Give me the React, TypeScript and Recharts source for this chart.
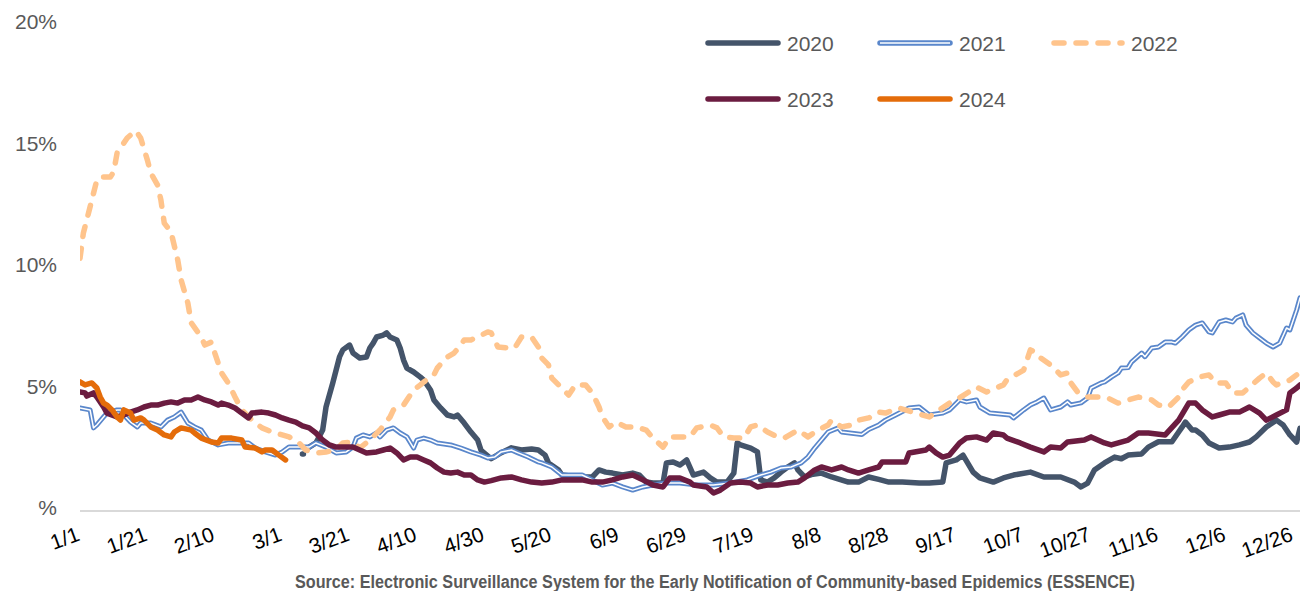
import React from "react";
import { LineChart, Line, XAxis, YAxis } from "recharts";

type Pt = [number, number | null];

const tickDays = [0, 20, 40, 60, 80, 100, 120, 140, 160, 180, 200, 220, 240, 260, 280, 300, 320, 340, 360];
const tickLabels = ["1/1", "1/21", "2/10", "3/1", "3/21", "4/10", "4/30", "5/20", "6/9", "6/29", "7/19", "8/8", "8/28", "9/17", "10/7", "10/27", "11/16", "12/6", "12/26"];
const yTicks = [0, 5, 10, 15, 20];

const s2020: Pt[] = [
  [66, 2.35], [66.3, 2.35], [66.8, null], [68, 2.63], [70, 2.8], [72, 3.33], [73, 4.28], [75, 5.27], [77, 6.34], [78, 6.63], [80, 6.83],
  [81, 6.5], [83, 6.3], [85, 6.34], [86, 6.71], [87, 6.91], [88, 7.16], [90, 7.24], [91, 7.33], [92, 7.16], [94, 7.04], [95, 6.71],
  [96, 6.21], [97, 5.88], [99, 5.72], [101, 5.51], [102, 5.39], [104, 4.98], [105, 4.57], [107, 4.24], [109, 3.95], [111, 3.87],
  [112, 3.95], [114, 3.62], [116, 3.25], [118, 2.92], [119, 2.5], [122, 2.15], [125, 2.4], [128, 2.6], [131, 2.51], [134, 2.55],
  [136, 2.51], [138, 2.3], [139, 1.98], [142, 1.69], [143, 1.48], [148, 1.4], [152, 1.4], [154, 1.69], [156, 1.6], [158, 1.56],
  [161, 1.48], [164, 1.56], [166, 1.48], [168, 1.19], [170, 1.15], [173, 1.15], [174, 1.98], [176, 2.02], [178, 1.89], [180, 2.1],
  [182, 1.48], [183, 1.52], [185, 1.6], [187, 1.36], [189, 1.19], [192, 1.19], [194, 1.56], [195, 2.8], [196, 2.72], [199, 2.59],
  [201, 2.43], [202, 1.28], [204, 1.19], [206, 1.36], [208, 1.6], [210, 1.81], [212, 1.98], [213, 1.69], [215, 1.4], [217, 1.5],
  [220, 1.56], [223, 1.4], [228, 1.19], [231, 1.19], [234, 1.4], [237, 1.3], [240, 1.19], [244, 1.19], [249, 1.15], [252, 1.15],
  [256, 1.19], [257, 1.98], [260, 2.1], [262, 2.3], [265, 1.6], [267, 1.36], [271, 1.19], [274, 1.36], [277, 1.48], [282, 1.6],
  [286, 1.4], [291, 1.4], [295, 1.19], [297, 0.99], [299, 1.15], [301, 1.69], [304, 1.98], [307, 2.22], [309, 2.15], [311, 2.3],
  [315, 2.35], [317, 2.63], [320, 2.85], [324, 2.85], [326, 3.25], [327, 3.45], [328, 3.66], [330, 3.33], [331, 3.33], [333, 3.13],
  [335, 2.8], [338, 2.59], [341, 2.63], [344, 2.72], [347, 2.84], [349, 3.05], [352, 3.46], [355, 3.74], [357, 3.54], [359, 3.13],
  [361, 2.84], [362, 3.4],
];

const s2021: Pt[] = [
  [0, 4.24], [3, 4.16], [4, 3.42], [5, 3.54], [7, 3.87], [8, 4.03], [11, 4.16], [12, 4.16], [13, 3.95], [15, 3.66], [17, 3.46],
  [18, 3.62], [21, 3.62], [24, 3.46], [26, 3.74], [28, 3.87], [30, 4.07], [32, 3.62], [34, 3.46], [36, 3.33], [38, 2.92], [41, 2.72],
  [44, 2.8], [47, 2.8], [50, 2.8], [52, 2.59], [55, 2.43], [58, 2.3], [60, 2.43], [62, 2.63], [65, 2.63], [68, 2.63], [70, 2.8],
  [73, 2.63], [76, 2.39], [79, 2.43], [81, 2.63], [82, 3.0], [84, 3.13], [86, 3.05], [88, 3.21], [89, 3.05], [91, 3.33], [93, 3.42],
  [95, 3.21], [97, 3.05], [99, 2.59], [100, 2.92], [102, 3.0], [104, 2.92], [106, 2.8], [110, 2.72], [113, 2.59], [116, 2.43],
  [119, 2.3], [121, 2.18], [123, 2.22], [125, 2.43], [128, 2.51], [130, 2.39], [133, 2.22], [136, 2.02], [137, 1.98], [140, 1.81],
  [143, 1.48], [146, 1.48], [149, 1.48], [152, 1.28], [155, 1.07], [158, 1.15], [161, 0.99], [164, 0.86], [167, 0.99], [170, 1.07],
  [174, 1.15], [178, 1.15], [183, 1.07], [188, 1.07], [193, 1.15], [198, 1.28], [202, 1.48], [205, 1.6], [208, 1.77], [211, 1.81],
  [214, 1.98], [216, 2.22], [218, 2.59], [220, 2.92], [222, 3.25], [225, 3.42], [226, 3.25], [229, 3.2], [232, 3.15], [234, 3.35],
  [237, 3.54], [239, 3.74], [242, 3.95], [246, 4.24], [249, 4.28], [252, 3.95], [256, 4.03], [258, 4.16], [261, 4.57], [263, 4.49],
  [266, 4.57], [267, 4.28], [270, 4.03], [276, 3.95], [277, 3.83], [280, 4.16], [282, 4.36], [284, 4.49], [286, 4.65], [288, 4.16],
  [291, 4.28], [293, 4.49], [294, 4.36], [297, 4.45], [299, 4.65], [300, 5.06], [303, 5.27], [304, 5.31], [306, 5.51], [308, 5.68],
  [309, 5.88], [311, 5.9], [312, 6.13], [315, 6.5], [316, 6.35], [318, 6.71], [320, 6.75], [322, 6.95], [324, 6.95], [325, 6.91],
  [327, 7.16], [329, 7.45], [331, 7.65], [333, 7.74], [335, 7.37], [336, 7.33], [338, 7.78], [340, 7.86], [342, 7.78], [343, 7.94],
  [345, 8.07], [346, 7.65], [348, 7.33], [350, 7.12], [352, 6.91], [354, 6.75], [356, 6.91], [358, 7.53], [359, 7.45], [361, 8.27],
  [362, 8.77],
];

const s2022: Pt[] = [
  [0, 10.4], [1, 11.44], [3, 12.52], [5, 13.62], [6, 13.74], [9, 13.74], [10, 13.96], [11, 14.73], [14, 15.35], [15, 15.47],
  [16, 15.39], [17, 15.56], [18, 15.35], [20, 14.44], [21, 13.91], [23, 13.42], [24, 12.8], [25, 11.85], [27, 11.48], [29, 10.33],
  [30, 9.51], [32, 8.56], [33, 7.74], [36, 7.16], [37, 6.83], [39, 6.95], [40, 6.5], [42, 5.68], [44, 5.27], [46, 4.69], [48, 4.16],
  [51, 3.74], [54, 3.42], [57, 3.25], [60, 3.13], [62, 3.05], [65, 2.8], [67, 2.51], [70, 2.39], [73, 2.43], [76, 2.51], [78, 2.8],
  [81, 2.84], [83, 2.59], [86, 2.92], [89, 3.33], [92, 3.87], [93, 4.16], [96, 4.36], [99, 4.98], [101, 5.19], [102, 5.31], [105, 5.6],
  [106, 5.88], [108, 6.21], [109, 6.34], [111, 6.5], [113, 6.83], [114, 7.04], [116, 7.04], [118, 7.16], [121, 7.37], [122, 7.33],
  [124, 6.75], [127, 6.71], [129, 6.71], [131, 7.16], [134, 7.16], [136, 6.75], [137, 6.3], [139, 6.01], [140, 5.47], [142, 5.19],
  [145, 4.77], [147, 5.19], [150, 5.19], [152, 4.86], [154, 4.28], [155, 3.87], [157, 3.46], [159, 3.66], [162, 3.46], [165, 3.46],
  [168, 3.33], [170, 3.0], [173, 2.63], [175, 3.05], [178, 3.05], [181, 3.05], [183, 3.42], [187, 3.54], [189, 3.42], [191, 3.05],
  [194, 3.0], [197, 3.0], [199, 3.46], [201, 3.54], [204, 3.25], [207, 3.05], [209, 3.0], [212, 3.25], [213, 3.33], [216, 3.05],
  [219, 3.33], [222, 3.54], [223, 3.74], [226, 3.46], [229, 3.54], [231, 3.74], [234, 3.83], [237, 4.07], [239, 4.03], [243, 4.24],
  [252, 3.87], [258, 4.44], [260, 4.57], [266, 5.1], [269, 4.9], [274, 5.19], [275, 5.39], [280, 5.8], [282, 6.63], [284, 6.5],
  [285, 6.3], [288, 6.01], [291, 5.6], [293, 5.68], [294, 5.27], [296, 4.9], [299, 4.69], [303, 4.69], [305, 4.65], [308, 4.44],
  [311, 4.57], [314, 4.69], [318, 4.57], [320, 4.36], [323, 4.28], [326, 4.69], [327, 4.98], [329, 5.31], [332, 5.51], [335, 5.6],
  [337, 5.27], [340, 5.27], [342, 4.86], [345, 4.86], [347, 5.1], [350, 5.47], [352, 5.68], [354, 5.31], [355, 5.19], [359, 5.39],
  [361, 5.6],
];

const s2023: Pt[] = [
  [0, 4.9], [1.5, 4.86], [2, 4.73], [4, 4.86], [5, 4.69], [7, 4.28], [8, 4.03], [11, 3.87], [13, 3.95], [15, 4.07], [17, 4.16],
  [19, 4.28], [21, 4.36], [23, 4.36], [25, 4.44], [27, 4.49], [29, 4.44], [31, 4.57], [33, 4.57], [35, 4.69], [37, 4.57], [39, 4.49],
  [41, 4.36], [42, 4.44], [44, 4.36], [46, 4.24], [48, 4.03], [50, 3.83], [51, 4.03], [54, 4.07], [56, 4.03], [58, 3.95], [60, 3.83],
  [62, 3.74], [64, 3.66], [66, 3.5], [68, 3.42], [70, 3.21], [72, 2.92], [74, 2.72], [76, 2.63], [79, 2.63], [81, 2.63], [83, 2.51],
  [85, 2.39], [88, 2.43], [90, 2.51], [92, 2.59], [94, 2.39], [96, 2.1], [98, 2.22], [100, 2.22], [102, 2.1], [104, 1.98], [106, 1.77],
  [108, 1.6], [110, 1.56], [112, 1.6], [114, 1.48], [116, 1.48], [118, 1.28], [120, 1.19], [122, 1.25], [125, 1.36], [128, 1.4],
  [131, 1.28], [134, 1.19], [137, 1.15], [140, 1.19], [143, 1.28], [146, 1.28], [149, 1.28], [152, 1.19], [155, 1.19], [158, 1.28],
  [161, 1.4], [164, 1.48], [167, 1.28], [170, 1.07], [173, 0.99], [175, 1.36], [178, 1.36], [181, 1.19], [182, 1.07], [186, 0.99],
  [188, 0.74], [190, 0.86], [193, 1.15], [196, 1.19], [199, 1.15], [201, 0.99], [204, 1.07], [207, 1.07], [210, 1.15], [213, 1.19],
  [215, 1.36], [218, 1.69], [220, 1.81], [223, 1.69], [226, 1.81], [228, 1.69], [231, 1.56], [234, 1.69], [237, 1.81], [238, 2.02],
  [241, 2.02], [245, 2.02], [246, 2.39], [251, 2.51], [252, 2.63], [254, 2.39], [256, 2.22], [258, 2.3], [261, 2.8], [263, 3.0],
  [266, 3.05], [269, 2.92], [271, 3.21], [274, 3.13], [275, 3.0], [279, 2.8], [282, 2.63], [286, 2.43], [288, 2.63], [291, 2.59],
  [293, 2.84], [298, 2.92], [300, 3.05], [304, 2.8], [306, 2.72], [311, 2.92], [314, 3.21], [317, 3.21], [322, 3.13], [326, 3.74],
  [329, 4.44], [331, 4.44], [333, 4.16], [336, 3.87], [338, 3.95], [341, 4.07], [344, 4.07], [347, 4.28], [350, 4.03], [352, 3.74],
  [355, 3.95], [358, 4.16], [359, 4.86], [361, 5.06], [362, 5.19],
];

const s2024: Pt[] = [
  [0, 5.31], [1.5, 5.19], [3.5, 5.27], [5, 5.06], [6, 4.69], [7, 4.44], [8, 4.36], [9.5, 4.16], [11, 3.87], [12, 3.74], [13, 4.16],
  [15, 4.03], [16, 3.74], [18, 3.83], [19, 3.74], [21, 3.46], [23, 3.33], [25, 3.13], [27, 3.05], [28, 3.25], [30, 3.42], [33, 3.33],
  [34, 3.21], [36, 3.0], [39, 2.84], [41, 2.8], [42, 3.0], [45, 3.0], [48, 2.92], [49, 2.63], [52, 2.59], [54, 2.43], [55, 2.51],
  [57, 2.51], [59, 2.3], [61, 2.1],
];

const toRows = (s: Pt[]) => s.map(([day, v]) => ({ day, v }));

const C2020 = "#44546A";
const C2021 = "#5A87CB";
const C2022 = "#FFC48C";
const C2023 = "#6B1C40";
const C2024 = "#E46C0A";

const XTick = (props: any) => {
  const { x, y, payload } = props;
  const i = tickDays.indexOf(payload.value);
  return (
    <g transform={`translate(${x + 1},${y + 29}) rotate(-20)`}>
      <text x={0} y={0} textAnchor="end" fill="#000" fontSize={21} fontFamily="'Liberation Sans Narrow','Liberation Sans',Arial,sans-serif">
        {tickLabels[i]}
      </text>
    </g>
  );
};

const YTick = (props: any) => {
  const { y, payload } = props;
  const v = payload.value;
  return (
    <text x={57} y={y + 4} textAnchor="end" fill="#595959" fontSize={21} fontFamily="'Liberation Sans',Arial,sans-serif">
      {v === 0 ? "%" : `${v}%`}
    </text>
  );
};

const legendFont = "'Liberation Sans',Arial,sans-serif";

const LegendItem = ({ x, y, label, kind }: { x: number; y: number; label: string; kind: string }) => (
  <g>
    {kind === "2021" ? (
      <>
        <line x1={x} y1={y} x2={x + 70} y2={y} stroke={C2021} strokeWidth={5.5} strokeLinecap="round" />
        <line x1={x} y1={y} x2={x + 70} y2={y} stroke="#fff" strokeWidth={1.6} />
      </>
    ) : kind === "2022" ? (
      <line x1={x + 2} y1={y} x2={x + 70} y2={y} stroke={C2022} strokeWidth={5.5} strokeLinecap="round" strokeDasharray="10 12" />
    ) : (
      <line x1={x} y1={y} x2={x + 70} y2={y} stroke={kind === "2020" ? C2020 : kind === "2023" ? C2023 : C2024} strokeWidth={5.5} strokeLinecap="round" />
    )}
    <text x={x + 79} y={y + 7.5} fill="#595959" fontSize={21} fontFamily={legendFont}>{label}</text>
  </g>
);

export default function App() {
  const common = { type: "linear" as const, dataKey: "v", dot: false, isAnimationActive: false, connectNulls: false, strokeLinejoin: "round" as const, strokeLinecap: "round" as const };
  return (
    <div style={{ position: "absolute", left: 0, top: 0, width: 1301, height: 591, background: "#fff" }}>
      <LineChart width={1301} height={591} margin={{ top: 25, right: 1, bottom: 0, left: 0 }}>
        <XAxis
          dataKey="day"
          type="number"
          domain={[0, 362]}
          ticks={tickDays}
          allowDataOverflow
          height={80}
          tickLine={false}
          tickSize={0}
          tickMargin={0}
          axisLine={{ stroke: "#D9D9D9", strokeWidth: 2 }}
          tick={<XTick />}
          interval={0}
        />
        <YAxis
          type="number"
          domain={[0, 20]}
          ticks={yTicks}
          width={80}
          axisLine={false}
          tickLine={false}
          tick={<YTick />}
          interval={0}
        />
        <Line {...common} data={toRows(s2020)} stroke={C2020} strokeWidth={5.5} />
        <Line {...common} data={toRows(s2021)} stroke={C2021} strokeWidth={5} />
        <Line {...common} data={toRows(s2021)} stroke="#fff" strokeWidth={1.5} />
        <Line {...common} data={toRows(s2022)} stroke={C2022} strokeWidth={5.5} strokeDasharray="10 12" />
        <Line {...common} data={toRows(s2023)} stroke={C2023} strokeWidth={5.5} />
        <Line {...common} data={toRows(s2024)} stroke={C2024} strokeWidth={5.5} />
      </LineChart>
      <svg width={1301} height={591} style={{ position: "absolute", left: 0, top: 0, pointerEvents: "none" }}>
        <LegendItem x={708} y={43} label="2020" kind="2020" />
        <LegendItem x={880} y={43} label="2021" kind="2021" />
        <LegendItem x={1052} y={43} label="2022" kind="2022" />
        <LegendItem x={708} y={99} label="2023" kind="2023" />
        <LegendItem x={880} y={99} label="2024" kind="2024" />
        <text
          x={295}
          y={588}
          textLength={840}
          lengthAdjust="spacingAndGlyphs"
          fill="#595959"
          fontSize={18}
          fontWeight="bold"
          fontFamily="'Liberation Sans Narrow','Liberation Sans',Arial,sans-serif"
        >
          Source: Electronic Surveillance System for the Early Notification of Community-based Epidemics (ESSENCE)
        </text>
      </svg>
    </div>
  );
}
